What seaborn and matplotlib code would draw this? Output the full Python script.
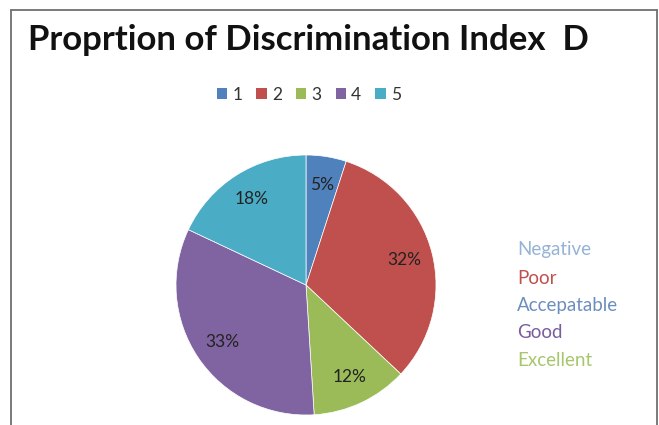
import matplotlib
matplotlib.use("Agg")
import matplotlib.pyplot as plt
import seaborn as sns
import numpy as np
from matplotlib.patches import Patch
from matplotlib.lines import Line2D

sns.set_theme(style="white")
plt.rcParams['font.family'] = ['Lato', 'DejaVu Sans']

categories = ["1", "2", "3", "4", "5"]
values = [5, 32, 12, 33, 18]
pct_labels = ["5%", "32%", "12%", "33%", "18%"]
side_labels = ["Negative", "Poor", "Accepatable", "Good", "Excellent"]
side_colors = ["#95B3D7", "#C0504D", "#6C8EBF", "#7A5C9C", "#A6C76C"]
title = "Proprtion of Discrimination Index  D"

colors = ["#4F81BD", "#C0504D", "#9BBB59", "#8064A2", "#4BACC6"]
palette = sns.color_palette(colors)

W, H = 659, 425
fig = plt.figure(figsize=(W / 100, H / 100), dpi=100)
fig.patch.set_facecolor("white")

# outer frame (top, left, right)
fx0, fx1, fy0 = 10.5 / W, 656.5 / W, 1 - 9.5 / H
for xs, ys in [([fx0, fx1], [fy0, fy0]), ([fx0, fx0], [fy0, 0]), ([fx1, fx1], [fy0, 0])]:
    fig.add_artist(Line2D(xs, ys, transform=fig.transFigure, color="#6f6f6f", linewidth=1.3))

cx, cy, r = 306, 285, 130
ax = fig.add_axes([(cx - r) / W, (H - cy - r) / H, 2 * r / W, 2 * r / H])
wedges, _ = ax.pie(values, colors=palette, startangle=90, counterclock=False,
                   radius=1, wedgeprops=dict(linewidth=0.5, edgecolor="white"))
for w, lab in zip(wedges, pct_labels):
    ang = np.deg2rad((w.theta1 + w.theta2) / 2)
    ax.text(0.78 * np.cos(ang), 0.78 * np.sin(ang), lab, ha="center", va="center",
            fontsize=12.5, color="#222222")
ax.set_xlim(-1, 1)
ax.set_ylim(-1, 1)
ax.set_aspect("equal")
ax.axis("off")

fig.text(28 / W, 1 - 40 / H, title, fontsize=25, fontweight="bold",
         ha="left", va="center", color="#111111")

handles = [Patch(facecolor=c, edgecolor="none") for c in palette]
fig.legend(handles, categories, loc="center", bbox_to_anchor=(309 / W, 1 - 95 / H),
           ncol=5, frameon=False, fontsize=12.5, handlelength=0.6, handleheight=0.6,
           handletextpad=0.3, columnspacing=0.8, labelcolor="#333333")

ys = [250, 278, 305, 333, 360]
for lab, col, y in zip(side_labels, side_colors, ys):
    fig.text(517 / W, 1 - y / H, lab, fontsize=13.5, color=col, ha="left", va="center")

fig.savefig("out.png", dpi=100, facecolor="white")
